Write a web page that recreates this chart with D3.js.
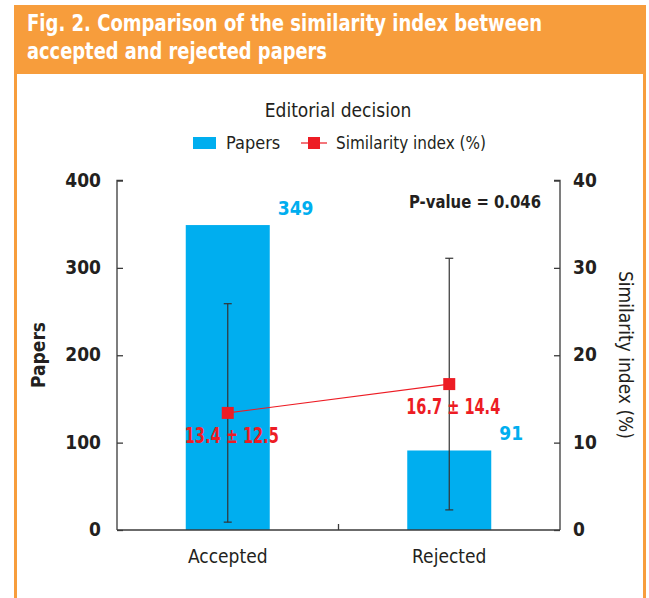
<!DOCTYPE html>
<html><head><meta charset="utf-8">
<script src="https://cdn.jsdelivr.net/npm/d3@7"></script>
<style>body{margin:0;background:#fff}svg{display:block}</style>
</head><body>
<script>
const categories = ["Accepted", "Rejected"];
const papers = [349, 91];
const simMean = [13.4, 16.7];
const simSD = [12.5, 14.4];
const simLabels = ["13.4 ± 12.5", "16.7 ± 14.4"];
const leftTicks = [0, 100, 200, 300, 400];
const rightTicks = [0, 10, 20, 30, 40];
const titleLines = ["Fig. 2. Comparison of the similarity index between", "accepted and rejected papers"];

const W = 649, H = 598;
const orange = "#F79D3C", blue = "#00AEEF", red = "#ED1C24", dark = "#231F20";
const font = "'DejaVu Sans Condensed', 'DejaVu Sans', sans-serif";

const svg = d3.select("body").append("svg").attr("width", W).attr("height", H);

function fit(sel, len) {
  return sel.attr("textLength", len).attr("lengthAdjust", "spacingAndGlyphs");
}

// frame
svg.append("rect").attr("x", 14).attr("y", 5).attr("width", 632).attr("height", 69).attr("fill", orange);
svg.append("rect").attr("x", 15.5).attr("y", 70).attr("width", 629).attr("height", 540)
  .attr("fill", "none").attr("stroke", orange).attr("stroke-width", 3);
const titleLens = [515, 300];
titleLines.forEach((t, i) => {
  fit(svg.append("text").attr("x", 27).attr("y", 31 + i * 28)
    .attr("fill", "#fff").attr("font-family", font).attr("font-weight", "bold").attr("font-size", 23)
    .text(t), titleLens[i]);
});

const x0 = 117, x1 = 560, yTop = 180.5, yBot = 530;
const x = d3.scaleBand().domain(categories).range([x0, x1]).paddingInner(0).paddingOuter(0);
const yL = d3.scaleLinear().domain([0, 400]).range([yBot, yTop]);
const yR = d3.scaleLinear().domain([0, 40]).range([yBot, yTop]);
const bw = 84;
const cx = c => x(c) + x.bandwidth() / 2;

// bars
svg.selectAll("rect.bar").data(categories).enter().append("rect")
  .attr("x", c => cx(c) - bw / 2).attr("width", bw)
  .attr("y", (c, i) => yL(papers[i])).attr("height", (c, i) => yBot - yL(papers[i]))
  .attr("fill", blue);

// axes
const axL = svg.append("g").attr("transform", `translate(${x0},0)`)
  .call(d3.axisRight(yL).tickValues(leftTicks).tickSize(6).tickFormat(""));
const axR = svg.append("g").attr("transform", `translate(${x1},0)`)
  .call(d3.axisLeft(yR).tickValues(rightTicks).tickSize(6).tickFormat(""));
const axB = svg.append("g").attr("transform", `translate(0,${yBot})`)
  .call(d3.axisTop(x).tickSize(0).tickFormat(""));
[axL, axR, axB].forEach(g => {
  g.selectAll("path,line").attr("stroke", "#3a3a3a").attr("stroke-width", 1.3);
});
axL.select("path.domain").attr("d", `M6,${yTop}H0V${yBot}`);
axR.select("path.domain").attr("d", `M-6,${yTop}H0V${yBot}`);
axB.select("path.domain").attr("d", `M${x0},0H${x1}`);
svg.append("line").attr("x1", x("Rejected")).attr("x2", x("Rejected"))
  .attr("y1", yBot).attr("y2", yBot - 6).attr("stroke", "#3a3a3a").attr("stroke-width", 1.3);

// tick labels
svg.selectAll("text.tl").data(leftTicks).enter().append("text")
  .attr("x", 101).attr("y", d => yL(d) + 6).attr("text-anchor", "end")
  .attr("font-family", font).attr("font-weight", "bold").attr("font-size", 19).attr("fill", dark)
  .text(d => d);
svg.selectAll("text.tr").data(rightTicks).enter().append("text")
  .attr("x", 573).attr("y", d => yR(d) + 6).attr("text-anchor", "start")
  .attr("font-family", font).attr("font-weight", "bold").attr("font-size", 19).attr("fill", dark)
  .text(d => d);
svg.selectAll("text.xl").data(categories).enter().append("text")
  .attr("x", c => cx(c)).attr("y", 563).attr("text-anchor", "middle")
  .attr("font-family", font).attr("font-size", 19).attr("fill", dark)
  .text(c => c);

// axis titles
svg.append("text").attr("transform", "translate(45,355) rotate(-90)").attr("text-anchor", "middle")
  .attr("font-family", font).attr("font-weight", "bold").attr("font-size", 19).attr("fill", dark).text("Papers");
svg.append("text").attr("transform", "translate(619,355) rotate(90)").attr("text-anchor", "middle")
  .attr("font-family", font).attr("font-size", 19).attr("fill", dark).text("Similarity index (%)");

// error bars
const eb = svg.selectAll("g.eb").data(categories).enter().append("g");
eb.append("line").attr("x1", cx).attr("x2", cx)
  .attr("y1", (c, i) => yR(simMean[i] + simSD[i])).attr("y2", (c, i) => yR(simMean[i] - simSD[i]))
  .attr("stroke", "#333").attr("stroke-width", 1.2);
[1, -1].forEach(s => {
  eb.append("line").attr("x1", c => cx(c) - 4).attr("x2", c => cx(c) + 4)
    .attr("y1", (c, i) => yR(simMean[i] + s * simSD[i])).attr("y2", (c, i) => yR(simMean[i] + s * simSD[i]))
    .attr("stroke", "#333").attr("stroke-width", 1.2);
});

// similarity line
const line = d3.line().x(d => cx(d.c)).y(d => yR(d.v));
const pts = categories.map((c, i) => ({c, v: simMean[i]}));
svg.append("path").attr("d", line(pts)).attr("fill", "none").attr("stroke", red).attr("stroke-width", 1.2);
svg.selectAll("rect.mk").data(pts).enter().append("rect")
  .attr("x", d => cx(d.c) - 6).attr("y", d => yR(d.v) - 6).attr("width", 12).attr("height", 12).attr("fill", red);

// labels
fit(svg.selectAll("text.sl").data(categories).enter().append("text")
  .attr("x", c => cx(c) + 4).attr("y", (c, i) => yR(simMean[i]) + 30)
  .attr("text-anchor", "middle").attr("font-family", font).attr("font-weight", "bold").attr("font-size", 21)
  .attr("fill", red).text((c, i) => simLabels[i]), 94);
svg.selectAll("text.pl").data(categories).enter().append("text")
  .attr("x", (c, i) => cx(c) + bw / 2 + 8).attr("y", (c, i) => yL(papers[i]) - 10)
  .attr("text-anchor", "start").attr("font-family", font).attr("font-weight", "bold").attr("font-size", 19)
  .attr("fill", blue).text((c, i) => papers[i]);

fit(svg.append("text").attr("x", 409).attr("y", 208)
  .attr("font-family", font).attr("font-weight", "bold").attr("font-size", 18).attr("fill", dark)
  .text("P-value = 0.046"), 132);

// legend
svg.append("text").attr("x", 338).attr("y", 117).attr("text-anchor", "middle")
  .attr("font-family", font).attr("font-size", 19).attr("fill", dark).text("Editorial decision");
svg.append("rect").attr("x", 193).attr("y", 137).attr("width", 23).attr("height", 12).attr("fill", blue);
svg.append("text").attr("x", 226).attr("y", 149).attr("font-family", font).attr("font-size", 18).attr("fill", dark).text("Papers");
svg.append("line").attr("x1", 301).attr("x2", 327).attr("y1", 143).attr("y2", 143).attr("stroke", red).attr("stroke-width", 1.2);
svg.append("rect").attr("x", 308).attr("y", 137).attr("width", 12).attr("height", 12).attr("fill", red);
fit(svg.append("text").attr("x", 336).attr("y", 149).attr("font-family", font).attr("font-size", 18).attr("fill", dark)
  .text("Similarity index (%)"), 150);
</script>
</body></html>
